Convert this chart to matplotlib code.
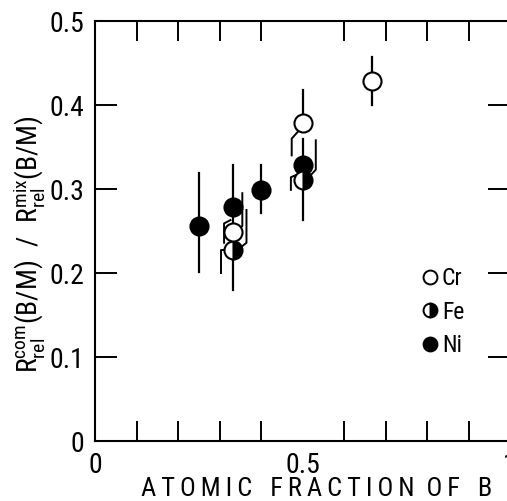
import numpy as np
import matplotlib
matplotlib.use('Agg')
from matplotlib import pyplot as plt
from matplotlib.lines import Line2D

plt.rcParams['font.family'] = ['Roboto Condensed', 'DejaVu Sans']
plt.rcParams['mathtext.fontset'] = 'custom'
plt.rcParams['mathtext.rm'] = 'Roboto Condensed'
plt.rcParams['mathtext.it'] = 'Roboto Condensed:italic'

# data
x_cr = [0.333, 0.5, 0.667]
y_cr = [0.249, 0.378, 0.428]
x_fe = [0.333, 0.5]
y_fe = [0.227, 0.311]
x_ni = [0.25, 0.333, 0.4, 0.5]
y_ni = [0.256, 0.279, 0.299, 0.329]

# plain vertical error bars
bar_x = [0.25, 0.333, 0.4, 0.5, 0.5, 0.667]
bar_lo = [0.201, 0.18, 0.271, 0.263, 0.378, 0.40]
bar_hi = [0.319, 0.329, 0.329, 0.36, 0.418, 0.457]

# error bars moved aside so they do not overlap (start, shift, knee, end)
kink_x = [0.333, 0.333, 0.333, 0.333, 0.5, 0.5, 0.5]
kink_y0 = [0.249, 0.227, 0.263, 0.227, 0.370, 0.311, 0.318]
kink_dx = [0.022, 0.032, -0.022, -0.03, -0.026, 0.032, -0.028]
kink_knee = [0.256, 0.236, 0.259, 0.227, 0.36, 0.323, 0.314]
kink_end = [0.295, 0.275, 0.236, 0.2, 0.34, 0.358, 0.299]

fig = plt.figure(figsize=(5.07, 5.01), dpi=100)
ax = fig.add_axes([95 / 507, 60 / 501, 415 / 507, 420 / 501])

for x, lo, hi in zip(bar_x, bar_lo, bar_hi):
    ax.plot([x, x], [lo, hi], color='black', lw=1.6, zorder=2)
for x, y0, dx, yk, ye in zip(kink_x, kink_y0, kink_dx, kink_knee, kink_end):
    ax.plot([x + dx * 0.3, x + dx, x + dx], [y0, yk, ye], color='black', lw=1.4, zorder=2)

ms = 13
ax.plot(x_ni, y_ni, 'o', ms=ms, mfc='black', mec='black', mew=1.5, zorder=3)
ax.plot(x_fe, y_fe, 'o', ms=ms, mfc='black', mfcalt='white', fillstyle='right',
        mec='black', mew=1.5, zorder=4)
ax.plot(x_cr, y_cr, 'o', ms=ms, mfc='white', mec='black', mew=1.5, zorder=4)

ax.set_xlim(0, 1.0)
ax.set_ylim(0, 0.5)
ax.set_xticks([0, 0.5, 1.0])
ax.set_xticklabels(['0', '0.5', '1'])
ax.set_xticks(np.arange(1, 10) / 10, minor=True)
ax.set_yticks([0, 0.1, 0.2, 0.3, 0.4, 0.5])
ax.set_yticklabels(['0', '0.1', '0.2', '0.3', '0.4', '0.5'])
ax.tick_params(axis='x', which='major', length=0, pad=8, labelsize=20)
ax.tick_params(axis='x', which='minor', direction='in', length=14.5, width=1.4,
               top=True, bottom=True)
ax.tick_params(axis='y', which='major', direction='in', length=16, width=1.4,
               left=True, right=True, pad=8, labelsize=20)
for s in ax.spines.values():
    s.set_linewidth(1.5)

ts = '\u2009'
words = [ts.join(w) for w in ['ATOMIC', 'FRACTION', 'OF', 'B']]
xl = words[0] + ' ' * 3 + words[1] + ' ' * 2 + words[2] + ' ' * 3 + words[3]
ax.set_xlabel(xl, fontsize=19)
ax.xaxis.set_label_coords(0.535, -0.085)
ax.set_ylabel(r'$\mathrm{R^{com}_{rel}(B/M)\ \ /\ \ R^{mix}_{rel}(B/M)}$', fontsize=20)
ax.yaxis.set_label_coords(-0.114, 0.47)

handles = [
    Line2D([], [], ls='', marker='o', ms=10, mfc='white', mec='black', mew=1.4),
    Line2D([], [], ls='', marker='o', ms=10, mfc='black', mfcalt='white',
           fillstyle='right', mec='black', mew=1.4),
    Line2D([], [], ls='', marker='o', ms=10, mfc='black', mec='black', mew=1.4),
]
ax.legend(handles, ['Cr', 'Fe', 'Ni'], frameon=False, fontsize=17,
          loc='center left', bbox_to_anchor=(0.755, 0.307), borderpad=0,
          handletextpad=0.12, labelspacing=0.45, handlelength=0.8)

fig.savefig('out.png', dpi=100)
